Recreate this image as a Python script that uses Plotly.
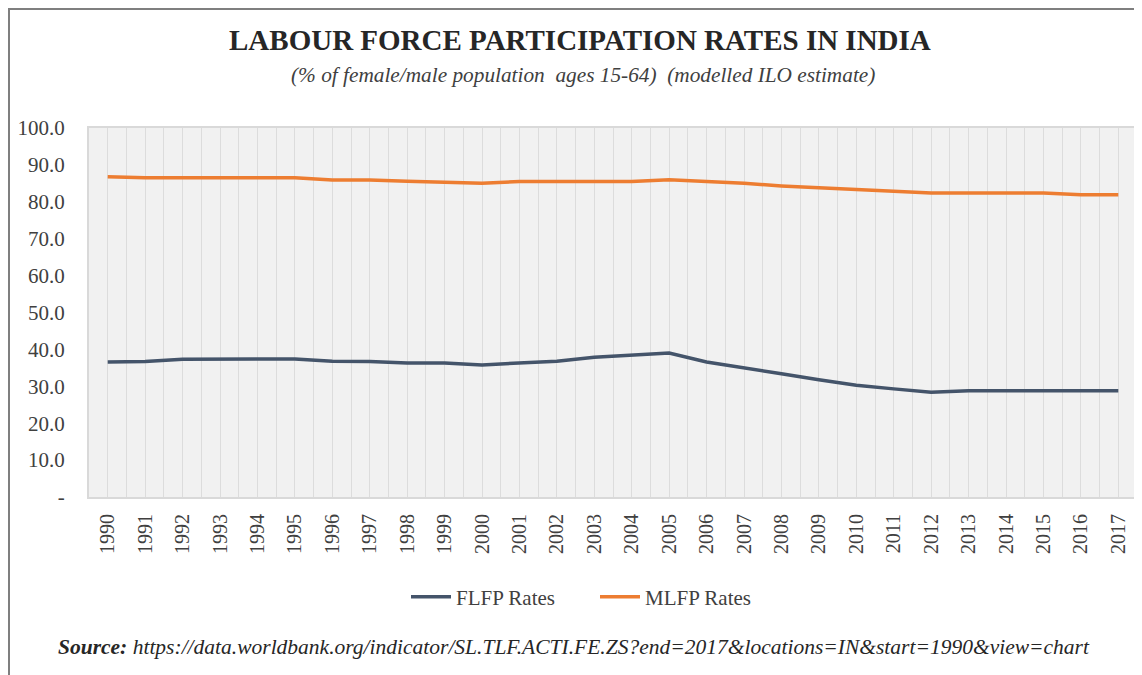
import plotly.graph_objects as go

years = list(range(1990, 2018))
flfp = [36.6, 36.7, 37.3, 37.4, 37.4, 37.4, 36.8, 36.7, 36.3, 36.3, 35.8, 36.2, 36.8, 37.9, 38.4, 39.0,
        36.6, 35.1, 33.4, 31.8, 30.3, 29.3, 28.4, 28.8, 28.8, 28.8, 28.8, 28.8]
mlfp = [86.8, 86.5, 86.5, 86.5, 86.5, 86.5, 85.9, 85.9, 85.6, 85.4, 85.0, 85.5, 85.5, 85.5, 85.5, 86.0,
        85.6, 85.0, 84.3, 83.8, 83.3, 82.8, 82.4, 82.4, 82.4, 82.4, 81.9, 81.9]
yticks = [0, 10, 20, 30, 40, 50, 60, 70, 80, 90, 100]
yticktext = ["-"] + [f"{v:.1f}" for v in yticks[1:]]

SERIF = "Liberation Serif"
# page body has an 8px margin; positions below are in screen pixels of the reference
OFF = 8
W, H = 1134, 667
L, R, T, B = 89 - OFF, 1137 - OFF, 128 - OFF, 497 - OFF
PW, PH = R - L, B - T


def px(x):
    return (x - OFF - L) / PW


def py(y):
    return (B - (y - OFF)) / PH


fig = go.Figure()
fig.add_trace(go.Scatter(x=years, y=flfp, mode="lines", name="FLFP Rates",
                         line=dict(color="#44546A", width=3.5)))
fig.add_trace(go.Scatter(x=years, y=mlfp, mode="lines", name="MLFP Rates",
                         line=dict(color="#ED7D31", width=3.5)))

fig.update_layout(
    width=W, height=H,
    margin=dict(l=L, r=W - R, t=T, b=H - B, autoexpand=False),
    paper_bgcolor="white", plot_bgcolor="#f1f1f1",
    font=dict(family=SERIF, color="#404040"),
    showlegend=True,
    legend=dict(orientation="h", x=px(595), xanchor="center", y=py(597), yanchor="middle",
                font=dict(size=21, color="#404040"), itemwidth=40, tracegroupgap=0,
                entrywidth=134, entrywidthmode="pixels"),
    annotations=[
        dict(text="<b>LABOUR FORCE PARTICIPATION RATES IN INDIA</b>", xref="paper", yref="paper",
             x=px(580), y=py(40), xanchor="center", yanchor="middle",
             showarrow=False, font=dict(size=29, family=SERIF, color="#262626")),
        dict(text="<i>(% of female/male population  ages 15-64)  (modelled ILO estimate)</i>",
             xref="paper", yref="paper", x=px(583), y=py(75),
             xanchor="center", yanchor="middle", showarrow=False,
             font=dict(size=21.3, family=SERIF, color="#404040")),
        dict(text="<b><i>Source:</i></b><i> https://data.worldbank.org/indicator/SL.TLF.ACTI.FE.ZS?end=2017&locations=IN&start=1990&view=chart</i>",
             xref="paper", yref="paper", x=px(574), y=py(647),
             xanchor="center", yanchor="middle", showarrow=False,
             font=dict(size=21.5, family=SERIF, color="#262626")),
    ],
    shapes=[dict(type="rect", xref="paper", yref="paper",
                 x0=(1 - L) / PW, x1=(W + 20 - L) / PW, y0=(B - H - 20) / PH, y1=(B - 1) / PH,
                 line=dict(color="#7f7f7f", width=2), fillcolor="rgba(0,0,0,0)", layer="below")],
)
fig.update_xaxes(range=[1989.5, 2017.5], tickmode="array", tickvals=years,
                 ticktext=[str(y) for y in years], tickangle=-90,
                 tickfont=dict(size=20, family=SERIF, color="#404040"),
                 showgrid=True, gridcolor="#dcdcdc", gridwidth=1,
                 minor=dict(dtick=1, tick0=1989.5, showgrid=True, gridcolor="#dcdcdc", gridwidth=1),
                 showline=True, linecolor="#d9d9d9", linewidth=2, mirror=True,
                 zeroline=False, ticks="", ticklabelstandoff=7, automargin=False)
fig.update_yaxes(range=[0, 100], tickmode="array", tickvals=yticks, ticktext=yticktext,
                 tickfont=dict(size=21, family=SERIF, color="#404040"),
                 showgrid=False, showline=True, linecolor="#d9d9d9", linewidth=2, mirror=True,
                 zeroline=False, ticks="", ticklabelstandoff=18, automargin=False)

fig.write_html("out.html")
